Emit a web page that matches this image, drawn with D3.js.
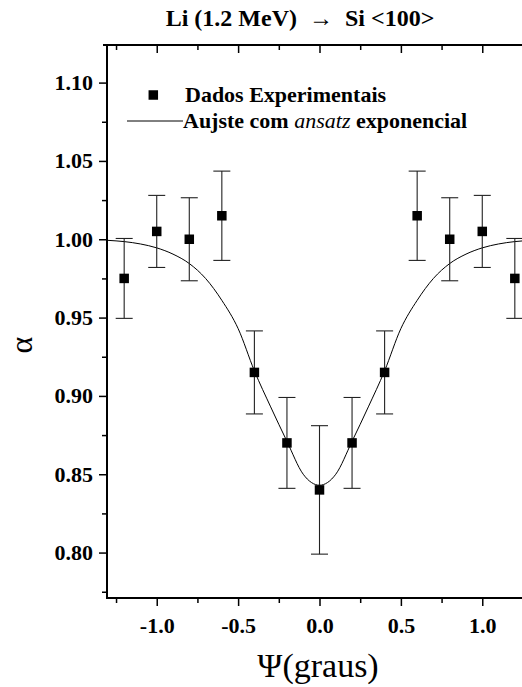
<!DOCTYPE html>
<html>
<head>
<meta charset="utf-8">
<script src="https://cdn.jsdelivr.net/npm/d3@7/dist/d3.min.js"></script>
<style>
  html, body { margin: 0; padding: 0; background: #fff; }
  svg { display: block; }
</style>
</head>
<body>
<svg id="chart" width="522" height="687"></svg>
<script>
// Channeling measurement: incidence angle psi (degrees) vs. alpha
const psi = [-1.2, -1.0, -0.8, -0.6, -0.4, -0.2, 0.0, 0.2, 0.4, 0.6, 0.8, 1.0, 1.2];
const alpha = [0.975, 1.005, 1.000, 1.015, 0.915, 0.870, 0.840, 0.870, 0.915, 1.015, 1.000, 1.005, 0.975];
const alphaErr = [0.0255, 0.023, 0.0265, 0.0285, 0.0265, 0.029, 0.041, 0.029, 0.0265, 0.0285, 0.0265, 0.023, 0.0255];

// Exponential-ansatz fit, sampled along psi
const fitPsi = [-1.3, -1.2, -1.1, -1.0, -0.9, -0.8, -0.7, -0.6, -0.5, -0.4, -0.3, -0.2, -0.1, 0.0,
                0.1, 0.2, 0.3, 0.4, 0.5, 0.6, 0.7, 0.8, 0.9, 1.0, 1.1, 1.2, 1.3];
const fitAlpha = [0.9993, 0.9985, 0.997, 0.9945, 0.9905, 0.9845, 0.975, 0.961, 0.943, 0.916, 0.893, 0.871, 0.850, 0.843,
                  0.850, 0.871, 0.893, 0.916, 0.943, 0.961, 0.975, 0.9845, 0.9905, 0.9945, 0.997, 0.9985, 0.9993];

// Axis ticks
const xMajor = [-1.0, -0.5, 0.0, 0.5, 1.0];
const xMinor = [-1.25, -0.75, -0.25, 0.25, 0.75, 1.25];
const yMajor = [0.80, 0.85, 0.90, 0.95, 1.00, 1.05, 1.10];
const yMinor = [0.775, 0.825, 0.875, 0.925, 0.975, 1.025, 1.075];

const titleText = "Li (1.2 MeV)  \u2192  Si <100>";
const xLabel = "\u03A8(graus)";
const yLabel = "\u03B1";

const svg = d3.select("#chart");
const W = 522, H = 687;
svg.append("rect").attr("width", W).attr("height", H).attr("fill", "#fff");

const plotLeft = 107, plotTop = 45, plotBottom = 598;
const x = d3.scaleLinear().domain([-1.3, 1.3]).range([107.9, 531.1]);
const y = d3.scaleLinear().domain([0.771, 1.124]).range([plotBottom, plotTop]);

const FONT = '"Liberation Serif", "Times New Roman", Times, serif';

// Title
svg.append("text")
  .attr("x", 300).attr("y", 26)
  .attr("text-anchor", "middle")
  .attr("font-family", FONT).attr("font-weight", "bold").attr("font-size", 24)
  .style("white-space", "pre")
  .text(titleText);

// Clip for plot contents
svg.append("clipPath").attr("id", "plotClip")
  .append("rect").attr("x", plotLeft).attr("y", plotTop)
  .attr("width", W - plotLeft).attr("height", plotBottom - plotTop);

const plot = svg.append("g").attr("clip-path", "url(#plotClip)");

// Fit curve
const line = d3.line()
  .x((d, i) => x(fitPsi[i]))
  .y((d, i) => y(fitAlpha[i]))
  .curve(d3.curveMonotoneX);
plot.append("path")
  .datum(fitPsi)
  .attr("d", line)
  .attr("fill", "none").attr("stroke", "#000").attr("stroke-width", 1);

// Error bars
const capHalf = 8.5;
const eb = plot.append("g").attr("stroke", "#222").attr("stroke-width", 1.1).attr("fill", "none");
psi.forEach((p, i) => {
  const cx = x(p), y1 = y(alpha[i] + alphaErr[i]), y2 = y(alpha[i] - alphaErr[i]);
  eb.append("line").attr("x1", cx).attr("x2", cx).attr("y1", y1).attr("y2", y2);
  eb.append("line").attr("x1", cx - capHalf).attr("x2", cx + capHalf).attr("y1", y1).attr("y2", y1);
  eb.append("line").attr("x1", cx - capHalf).attr("x2", cx + capHalf).attr("y1", y2).attr("y2", y2);
});

// Data squares
const sq = 9.5;
plot.append("g").selectAll("rect").data(psi).join("rect")
  .attr("x", d => x(d) - sq / 2)
  .attr("y", (d, i) => y(alpha[i]) - sq / 2)
  .attr("width", sq).attr("height", sq)
  .attr("fill", "#000");

// Axes
function styleAxis(g) {
  g.select(".domain").remove();
  g.selectAll(".tick line").attr("stroke", "#000").attr("stroke-width", 1.5);
  g.selectAll(".tick text")
    .attr("font-family", FONT).attr("font-weight", "bold").attr("font-size", 22).attr("fill", "#000");
}

// bottom
const gxB = svg.append("g").attr("transform", `translate(0,${plotBottom})`)
  .call(d3.axisBottom(x).tickValues(xMajor).tickSize(8).tickPadding(11).tickFormat(d => d.toFixed(1)));
styleAxis(gxB);
const gxBm = svg.append("g").attr("transform", `translate(0,${plotBottom})`)
  .call(d3.axisBottom(x).tickValues(xMinor).tickSize(5).tickFormat(""));
styleAxis(gxBm);

// top (ticks point inward)
const gxT = svg.append("g").attr("transform", `translate(0,${plotTop})`)
  .call(d3.axisBottom(x).tickValues(xMajor).tickSize(8).tickFormat(""));
styleAxis(gxT);
const gxTm = svg.append("g").attr("transform", `translate(0,${plotTop})`)
  .call(d3.axisBottom(x).tickValues(xMinor).tickSize(5).tickFormat(""));
styleAxis(gxTm);

// left
const gyL = svg.append("g").attr("transform", `translate(${plotLeft},0)`)
  .call(d3.axisLeft(y).tickValues(yMajor).tickSize(8).tickPadding(6).tickFormat(d => d.toFixed(2)));
styleAxis(gyL);
const gyLm = svg.append("g").attr("transform", `translate(${plotLeft},0)`)
  .call(d3.axisLeft(y).tickValues(yMinor).tickSize(5).tickFormat(""));
styleAxis(gyLm);

// frame lines
const frame = svg.append("g").attr("stroke", "#000").attr("stroke-width", 2).attr("fill", "none");
frame.append("line").attr("x1", plotLeft).attr("x2", plotLeft).attr("y1", plotTop - 1).attr("y2", plotBottom + 1);
frame.append("line").attr("x1", plotLeft - 4).attr("x2", W).attr("y1", plotTop).attr("y2", plotTop);
frame.append("line").attr("x1", plotLeft - 1).attr("x2", W).attr("y1", plotBottom).attr("y2", plotBottom);

// Axis titles
svg.append("text")
  .attr("x", 318).attr("y", 677)
  .attr("text-anchor", "middle")
  .attr("font-family", FONT).attr("font-size", 34)
  .text(xLabel);

svg.append("text")
  .attr("transform", "translate(32,345) rotate(-90)")
  .attr("text-anchor", "middle")
  .attr("font-family", FONT).attr("font-size", 32)
  .text(yLabel);

// Legend
const lg = svg.append("g");
lg.append("rect").attr("x", 153.3 - sq / 2).attr("y", 95 - sq / 2).attr("width", sq).attr("height", sq).attr("fill", "#000");
lg.append("text").attr("x", 185).attr("y", 102)
  .attr("font-family", FONT).attr("font-weight", "bold").attr("font-size", 22)
  .text("Dados Experimentais");
lg.append("line").attr("x1", 127).attr("x2", 183).attr("y1", 121).attr("y2", 121)
  .attr("stroke", "#000").attr("stroke-width", 1);
const t2 = lg.append("text").attr("x", 183).attr("y", 127.5)
  .attr("font-family", FONT).attr("font-weight", "bold").attr("font-size", 22)
  .style("white-space", "pre");
t2.append("tspan").text("Aujste com ");
t2.append("tspan").attr("font-style", "italic").attr("font-weight", "normal").text("ansatz");
t2.append("tspan").text(" exponencial");
</script>
</body>
</html>
